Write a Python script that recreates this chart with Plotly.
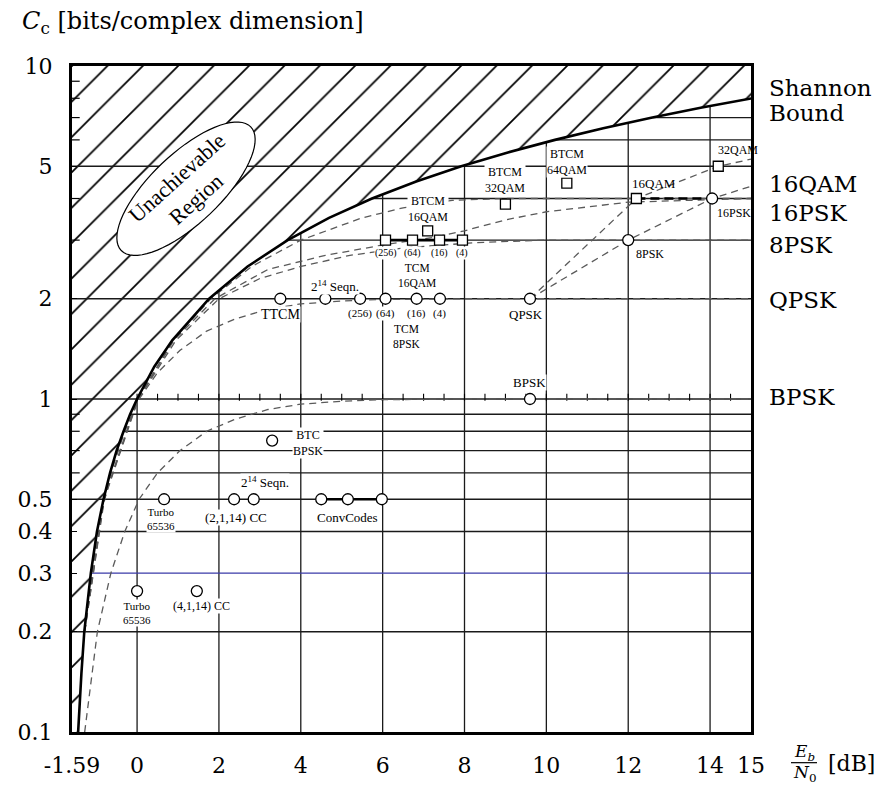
import numpy as np
import plotly.graph_objects as go

# ---------------- data ----------------
x_tick_vals = [-1.59, 0, 2, 4, 6, 8, 10, 12, 14, 15]
x_tick_text = ["-1.59", "0", "2", "4", "6", "8", "10", "12", "14", "15"]
y_tick_vals = [0.1, 0.2, 0.3, 0.4, 0.5, 1, 2, 5, 10]
y_tick_text = ["0.1", "0.2", "0.3", "0.4", "0.5", "1", "2", "5", "10"]
y_minor_vals = [0.6, 0.7, 0.8, 0.9, 3, 4, 6, 7, 8, 9]

# Shannon bound (Eb/N0 in dB, capacity in bits / complex dimension)
shannon_C = [0.1, 0.12, 0.15, 0.2, 0.3, 0.4, 0.5, 0.6, 0.7, 0.8, 0.9, 1.0, 1.25, 1.5,
             2.0, 2.5, 3.0, 3.5, 4.0, 4.5, 5.0, 5.5, 6.0, 6.5, 7.0, 7.5, 8.0]
shannon_db = [-1.44, -1.41, -1.36, -1.29, -1.13, -0.98, -0.82, -0.66, -0.50, -0.33, -0.17, 0.0, 0.42, 0.86,
              1.76, 2.70, 3.68, 4.69, 5.74, 6.82, 7.92, 9.06, 10.21, 11.39, 12.59, 13.80, 15.03]

# constrained-input capacity curves (dashed)
bpsk_cap_db = [-1.28, -0.97, -0.64, -0.30, 0.05, 0.50, 1.05, 1.70, 2.40, 3.20, 4.00, 5.00, 6.00, 7.00, 8.00, 15.0]
bpsk_cap_C = [0.10, 0.20, 0.30, 0.40, 0.50, 0.60, 0.70, 0.80, 0.87, 0.93, 0.965, 0.985, 0.995, 0.999, 1.0, 1.0]
qpsk_cap_db = [-1.28, -0.97, -0.64, -0.30, 0.05, 0.50, 1.05, 1.70, 2.40, 3.20, 4.00, 5.00, 6.00, 7.00, 8.00, 15.0]
qpsk_cap_C = [0.20, 0.40, 0.60, 0.80, 1.00, 1.20, 1.40, 1.60, 1.74, 1.86, 1.93, 1.97, 1.99, 1.998, 2.0, 2.0]
psk8_cap_db = [-1.28, -0.80, 0.03, 0.95, 2.00, 3.00, 4.00, 5.20, 6.60, 8.30, 10.0, 15.0]
psk8_cap_C = [0.20, 0.50, 1.00, 1.50, 2.00, 2.30, 2.50, 2.70, 2.85, 2.95, 3.0, 3.0]
psk16_cap_db = [-1.28, -0.81, 0.02, 0.90, 1.90, 3.20, 4.60, 6.00, 7.20, 8.00, 9.00, 10.0, 12.0, 14.0, 15.0]
psk16_cap_C = [0.20, 0.50, 1.00, 1.50, 2.00, 2.45, 2.70, 2.90, 3.05, 3.20, 3.45, 3.65, 3.90, 3.98, 4.0]
qam16_cap_db = [-1.29, -0.815, 0.01, 0.88, 1.80, 2.80, 4.00, 4.90, 5.50, 6.50, 7.70, 9.00, 15.0]
qam16_cap_C = [0.20, 0.50, 1.00, 1.50, 2.00, 2.50, 3.00, 3.30, 3.50, 3.75, 3.95, 4.00, 4.00]

# uncoded modulation trend lines (dashed)
uncoded_qam_db = [9.6, 12.2, 14.2, 15.0]
uncoded_qam_C = [2.0, 4.0, 5.0, 5.25]
uncoded_psk_db = [9.6, 12.0, 14.05, 15.0]
uncoded_psk_C = [2.0, 3.0, 4.0, 4.35]

# operating points
ttcm_db, ttcm_C = [3.5], [2.0]
seqn_8psk_db, seqn_8psk_C = [4.6], [2.0]
tcm_8psk_db = [5.45, 6.07, 6.83, 7.4]
tcm_8psk_C = [2.0, 2.0, 2.0, 2.0]
tcm_16qam_db = [6.07, 6.73, 7.39, 7.95]
tcm_16qam_C = [3.0, 3.0, 3.0, 3.0]
btcm_db = [7.1, 9.0, 10.5]
btcm_C = [3.2, 3.85, 4.45]
unc_sq_db = [12.2, 14.2]          # 16QAM, 32QAM
unc_sq_C = [4.0, 5.0]
unc_circ_db = [9.6, 9.6, 12.0, 14.05]   # BPSK, QPSK, 8PSK, 16PSK
unc_circ_C = [1.0, 2.0, 3.0, 4.0]
btc_bpsk_db, btc_bpsk_C = [3.3], [0.75]
half_rate_db = [0.66, 2.37, 2.85]        # Turbo 65536, (2,1,14) CC, 2^14 Seqn.
half_rate_C = [0.5, 0.5, 0.5]
conv_db = [4.5, 5.15, 5.98]
conv_C = [0.5, 0.5, 0.5]
quarter_db = [0.0, 1.46]                 # Turbo 65536, (4,1,14) CC
quarter_C = [0.265, 0.265]
qam_psk_link_db = [12.2, 14.05]
qam_psk_link_C = [4.0, 4.0]

minor_ticks_db = [0, 0.5, 1, 1.5, 2, 2.5, 3, 3.5, 4, 4.5, 5, 5.5, 6, 6.5, 7, 7.5,
                  8, 8.5, 9, 9.5, 10, 10.5, 11, 11.5, 12, 12.5, 13, 13.5, 14, 14.5]

grid_full_C = [0.2, 0.5, 1, 2, 5]
grid_part_C = [0.4, 0.6, 0.7, 0.8, 0.9, 3, 4, 6, 7]
grid_blue_C = [0.3]
grid_vert_db = [0, 2, 4, 6, 8, 10, 12, 14]

XMIN, XMAX = -1.59, 15.0
YMIN, YMAX = 0.1, 10.0

# ---------------- geometry helpers ----------------
L, R, T, B = 72, 123, 66, 51
W, H = 874, 790
PW, PH = W - L - R, H - T - B

def paper(px, py):
    return (px - L) / PW, 1 - (py - T) / PH

log_sC = np.log10(shannon_C)

def bound_db_at(C):
    return float(np.interp(np.log10(C), log_sC, shannon_db))

def bound_C_at(db):
    return float(10 ** np.interp(db, shannon_db, log_sC))

SERIF = "Liberation Serif"
MATH = "DejaVu Serif"

fig = go.Figure()

# hatched unachievable region
hx = [XMIN] + shannon_db + [shannon_db[-1], XMIN]
hy = [YMIN] + shannon_C + [YMAX, YMAX]
fig.add_trace(go.Scatter(
    x=hx, y=hy, mode="lines", fill="toself", line=dict(width=0),
    fillcolor="white",
    fillpattern=dict(shape="/", size=25, solidity=0.07, fgcolor="black", fgopacity=1,
                     bgcolor="white"),
    hoverinfo="skip", showlegend=False))

# grid lines
gx, gy = [], []
for c in grid_full_C:
    gx += [XMIN, XMAX, None]; gy += [c, c, None]
for c in grid_part_C:
    gx += [bound_db_at(c), XMAX, None]; gy += [c, c, None]
for d in grid_vert_db:
    gx += [d, d, None]; gy += [YMIN, bound_C_at(d), None]
fig.add_trace(go.Scatter(x=gx, y=gy, mode="lines", line=dict(color="#1a1a1a", width=1.3),
                         hoverinfo="skip", showlegend=False))
bx, by = [], []
for c in grid_blue_C:
    bx += [bound_db_at(c), XMAX, None]; by += [c, c, None]
fig.add_trace(go.Scatter(x=bx, y=by, mode="lines", line=dict(color="#3a3aa8", width=1.3),
                         hoverinfo="skip", showlegend=False))

# small ticks on the C=1 line
fig.add_trace(go.Scatter(x=minor_ticks_db, y=[1.012] * len(minor_ticks_db), mode="markers",
                         marker=dict(symbol="line-ns", size=5, line=dict(color="black", width=1.1)),
                         hoverinfo="skip", showlegend=False))
# inward minor ticks on the left border (clipped to the plot area)
fig.add_trace(go.Scatter(x=[XMIN] * len(y_minor_vals), y=y_minor_vals, mode="markers",
                         marker=dict(symbol="line-ew", size=11, line=dict(color="black", width=1.2)),
                         hoverinfo="skip", showlegend=False))

# dashed capacity curves
dash_style = dict(color="#5a5a5a", width=1.3, dash="7px,5px")
for xs, ys in [(bpsk_cap_db, bpsk_cap_C), (qpsk_cap_db, qpsk_cap_C), (psk8_cap_db, psk8_cap_C),
               (psk16_cap_db, psk16_cap_C), (qam16_cap_db, qam16_cap_C),
               (uncoded_qam_db, uncoded_qam_C), (uncoded_psk_db, uncoded_psk_C)]:
    fig.add_trace(go.Scatter(x=xs, y=ys, mode="lines", line=dash_style,
                             hoverinfo="skip", showlegend=False))

# Shannon bound
fig.add_trace(go.Scatter(x=shannon_db, y=shannon_C, mode="lines",
                         line=dict(color="black", width=2.6), showlegend=False))

# thick links
fig.add_trace(go.Scatter(x=conv_db, y=conv_C, mode="lines", line=dict(color="black", width=2.6),
                         showlegend=False))
fig.add_trace(go.Scatter(x=tcm_16qam_db, y=tcm_16qam_C, mode="lines", line=dict(color="black", width=2.6),
                         showlegend=False))
fig.add_trace(go.Scatter(x=qam_psk_link_db, y=qam_psk_link_C, mode="lines",
                         line=dict(color="black", width=2.6, dash="9px,5px"), showlegend=False))

# markers
circ = dict(symbol="circle", size=11, color="white", line=dict(color="black", width=1.3))
sq = dict(symbol="square", size=10, color="white", line=dict(color="black", width=1.3))
for xs, ys in [(ttcm_db, ttcm_C), (seqn_8psk_db, seqn_8psk_C), (tcm_8psk_db, tcm_8psk_C),
               (unc_circ_db, unc_circ_C), (btc_bpsk_db, btc_bpsk_C), (half_rate_db, half_rate_C),
               (conv_db, conv_C), (quarter_db, quarter_C)]:
    fig.add_trace(go.Scatter(x=xs, y=ys, mode="markers", marker=circ, cliponaxis=False, showlegend=False))
for xs, ys in [(tcm_16qam_db, tcm_16qam_C), (btcm_db, btcm_C), (unc_sq_db, unc_sq_C)]:
    fig.add_trace(go.Scatter(x=xs, y=ys, mode="markers", marker=sq, cliponaxis=False, showlegend=False))

# ---------------- annotations ----------------
ann = []

def lab(text, x, c, dx=0, dy=0, size=12, bg="white"):
    ann.append(dict(text=text, x=x, y=np.log10(c), xref="x", yref="y", xshift=dx, yshift=dy,
                    showarrow=False, font=dict(family=SERIF, size=size, color="black"),
                    bgcolor=bg, borderpad=0, xanchor="center", yanchor="middle"))

lab("TTCM", 3.5, 2.0, 0, -16, 14)
lab("2<sup>14</sup> Seqn.", 4.6, 2.0, 10, 13, 13)
for d, t in zip(tcm_8psk_db, ["(256)", "(64)", "(16)", "(4)"]):
    lab(t, d, 2.0, 0, -15, 11)
lab("TCM<br>8PSK", 6.6, 2.0, 0, -38, 11.5)
lab("TCM<br>16QAM", 6.85, 3.0, 0, -35, 11.5)
for d, t in zip(tcm_16qam_db, ["(256)", "(64)", "(16)", "(4)"]):
    lab(t, d, 3.0, 0, -13, 10)
lab("BTCM<br>16QAM", 7.1, 3.2, 0, 22, 12)
lab("BTCM<br>32QAM", 9.0, 3.85, 0, 24, 12)
lab("BTCM<br>64QAM", 10.5, 4.45, 0, 21, 12)
lab("16QAM", 12.2, 4.0, 18, 15, 13, None)
lab("32QAM", 14.2, 5.0, 20, 16, 12, None)
lab("16PSK", 14.05, 4.0, 22, -14, 12, None)
lab("8PSK", 12.0, 3.0, 22, -14, 12, None)
lab("QPSK", 9.6, 2.0, -4, -16, 13)
lab("BPSK", 9.6, 1.0, 0, 17, 13)
lab("BTC<br>BPSK", 3.3, 0.75, 36, -2, 12)
lab("2<sup>14</sup> Seqn.", 2.85, 0.5, 11, 17, 13)
lab("Turbo<br>65536", 0.66, 0.5, -3, -20, 11)
lab("(2,1,14) CC", 2.37, 0.5, 2, -18, 13)
lab("ConvCodes", 5.15, 0.5, 0, -18, 13)
lab("Turbo<br>65536", 0.0, 0.265, 0, -22, 11)
lab("(4,1,14) CC", 1.46, 0.265, 5, -15, 12)

# right-hand labels
for text, py in [("Shannon", 88), ("Bound", 113), ("16QAM", 185), ("16PSK", 215),
                 ("8PSK", 247), ("QPSK", 302), ("BPSK", 400)]:
    xp, yp = paper(767, py)
    ann.append(dict(text=text, x=xp, y=yp, xref="paper", yref="paper", showarrow=False,
                    xanchor="left", yanchor="middle", font=dict(family=MATH, size=23, color="black")))

# axis titles
xp, yp = paper(20, 22)
ann.append(dict(text="<i>C</i><sub>c</sub> [bits/complex dimension]", x=xp, y=yp, xref="paper", yref="paper",
                showarrow=False, xanchor="left", yanchor="middle", font=dict(family=MATH, size=24, color="black")))
xp, yp = paper(804, 760)
ann.append(dict(text="<i>E<sub>b</sub></i>", x=xp, y=yp, xref="paper", yref="paper", showarrow=False,
                xanchor="center", yanchor="middle", font=dict(family=MATH, size=17, color="black")))
xp, yp = paper(804, 781)
ann.append(dict(text="<i>N</i><sub>0</sub>", x=xp, y=yp, xref="paper", yref="paper", showarrow=False,
                xanchor="center", yanchor="middle", font=dict(family=MATH, size=17, color="black")))
xp, yp = paper(826, 771)
ann.append(dict(text="[dB]", x=xp, y=yp, xref="paper", yref="paper", showarrow=False,
                xanchor="left", yanchor="middle", font=dict(family=MATH, size=22, color="black")))

# Unachievable region text
ecx, ecy = 186, 190
xp, yp = paper(ecx, ecy)
ann.append(dict(text="Unachievable<br>Region", x=xp, y=yp, xref="paper", yref="paper", showarrow=False,
                textangle=-42, xanchor="center", yanchor="middle",
                font=dict(family=SERIF, size=22, color="black")))

# shapes: ellipse and fraction bar
shapes = []
a, b, th = 90, 35, np.deg2rad(44)
ts = np.linspace(0, 2 * np.pi, 73)
pts = []
for t in ts:
    px_ = ecx + a * np.cos(t) * np.cos(th) + b * np.sin(t) * np.sin(th)
    py_ = ecy - a * np.cos(t) * np.sin(th) + b * np.sin(t) * np.cos(th)
    pts.append(paper(px_, py_))
path = "M " + " L ".join(f"{p[0]:.5f},{p[1]:.5f}" for p in pts) + " Z"
shapes.append(dict(type="path", path=path, xref="paper", yref="paper", fillcolor="white",
                   line=dict(color="black", width=1.2), layer="above"))
x0, y0 = paper(791, 770)
x1, _ = paper(817, 770)
shapes.append(dict(type="line", x0=x0, x1=x1, y0=y0, y1=y0, xref="paper", yref="paper",
                   line=dict(color="black", width=1.2)))

fig.update_layout(
    width=W, height=H,
    margin=dict(l=L, r=R, t=T, b=B),
    paper_bgcolor="white", plot_bgcolor="white",
    showlegend=False,
    annotations=ann, shapes=shapes,
    xaxis=dict(range=[XMIN, XMAX], tickvals=x_tick_vals, ticktext=x_tick_text,
               showgrid=False, zeroline=False, showline=True, linewidth=3, linecolor="black",
               mirror=True, ticks="", ticklabelstandoff=12,
               tickfont=dict(family=MATH, size=22, color="black")),
    yaxis=dict(type="log", range=[np.log10(YMIN), np.log10(YMAX)], tickvals=y_tick_vals,
               ticktext=y_tick_text, showgrid=False, zeroline=False, showline=True, linewidth=3,
               linecolor="black", mirror=True, ticks="inside", ticklen=5, tickwidth=1.2,
               tickcolor="black", ticklabelstandoff=12,
               tickfont=dict(family=MATH, size=22, color="black")),
)

fig.write_html("out.html")
